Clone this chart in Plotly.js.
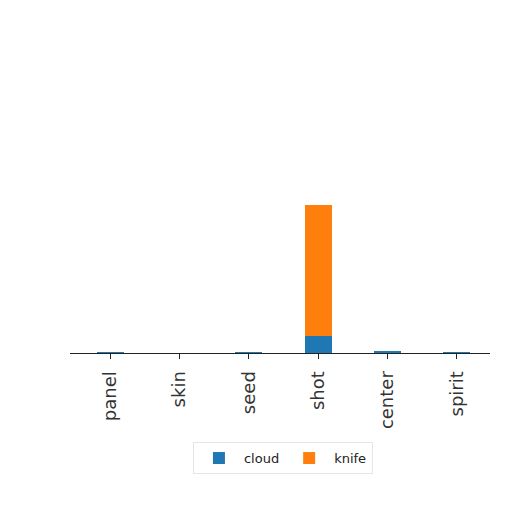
<!DOCTYPE html>
<html>
<head>
<meta charset="utf-8">
<script src="https://cdn.plot.ly/plotly-3.0.1.min.js"></script>
<style>
  html, body { margin: 0; padding: 0; background: #fff; }
  #chart { width: 512px; height: 512px; }
</style>
</head>
<body>
<div id="chart"></div>
<script>
var categories = ['panel', 'skin', 'seed', 'shot', 'center', 'spirit'];
var cloud = [0.4, 0, 0.4, 11.5, 1.6, 0.4];
var knife = [0, 0, 0, 88.5, 0, 0];

var trace_cloud = {
    x: categories,
    y: cloud,
    name: 'cloud',
    type: 'bar',
    width: 0.39,
    marker: { color: '#1f77b4' }
};

var trace_knife = {
    x: categories,
    y: knife,
    name: 'knife',
    type: 'bar',
    width: 0.39,
    marker: { color: '#ff7f0e' }
};

var layout = {
    width: 512,
    height: 512,
    margin: { l: 70, r: 22, t: 57, b: 159, pad: 0 },
    barmode: 'stack',
    paper_bgcolor: '#ffffff',
    plot_bgcolor: 'rgba(0,0,0,0)',
    font: { family: 'DejaVu Sans', color: '#222' },
    xaxis: {
        range: [-0.58, 5.48],
        showline: true,
        linecolor: '#222',
        linewidth: 1,
        ticks: 'outside',
        ticklen: 5,
        tickcolor: '#222',
        tickangle: -90,
        ticklabelstandoff: 5,
        tickfont: { size: 18, color: '#333' },
        showgrid: false,
        zeroline: false
    },
    yaxis: {
        range: [0, 200],
        visible: false,
        showgrid: false,
        zeroline: false
    },
    showlegend: true,
    legend: {
        orientation: 'h',
        x: 0.507,
        xanchor: 'center',
        y: -0.355,
        yanchor: 'middle',
        bgcolor: '#ffffff',
        bordercolor: '#e6e6e6',
        borderwidth: 1,
        itemwidth: 40,
        font: { size: 13, color: '#222' },
        traceorder: 'normal'
    }
};

Plotly.newPlot('chart', [trace_cloud, trace_knife], layout, { displayModeBar: false });
</script>
</body>
</html>
